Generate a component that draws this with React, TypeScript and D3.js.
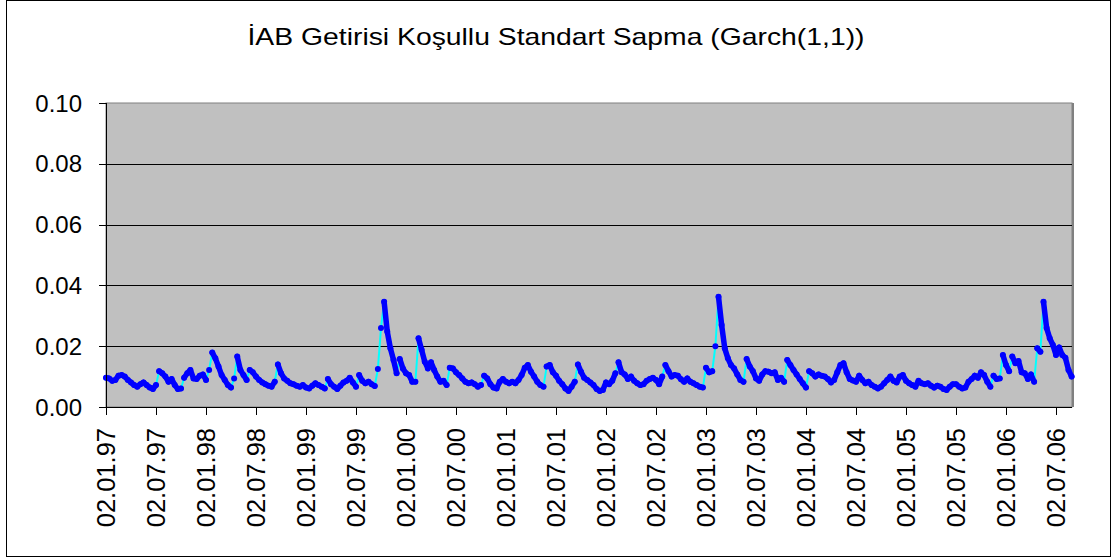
import React from "react";
import * as d3 from "d3";

const title = "İAB Getirisi Koşullu Standart Sapma (Garch(1,1))";

const tickLabels = [
  "02.01.97", "02.07.97", "02.01.98", "02.07.98", "02.01.99", "02.07.99",
  "02.01.00", "02.07.00", "02.01.01", "02.07.01", "02.01.02", "02.07.02",
  "02.01.03", "02.07.03", "02.01.04", "02.07.04", "02.01.05", "02.07.05",
  "02.01.06", "02.07.06",
];

const yTicks = [0, 0.02, 0.04, 0.06, 0.08, 0.1];

// observations per tick interval (half-year)
const pointsPerTick = 16;
const totalCategories = 309.12;

const sigma1997_1999 = [
  0.0096, 0.0094, 0.0086, 0.0089, 0.0103, 0.0105, 0.0100, 0.0089, 0.0081, 0.0072,
  0.0067, 0.0075, 0.0081, 0.0072, 0.0064, 0.0059, 0.0072, 0.0118, 0.0111, 0.0100,
  0.0083, 0.0092, 0.0072, 0.0059, 0.0061, 0.0096, 0.0111, 0.0122, 0.0094, 0.0092,
  0.0103, 0.0107, 0.0089, 0.0122, 0.0179, 0.0160, 0.0133, 0.0105, 0.0089, 0.0072,
  0.0064, 0.0094, 0.0166, 0.0122, 0.0105, 0.0089, 0.0122, 0.0114, 0.0100, 0.0089,
  0.0081, 0.0075, 0.0070, 0.0067, 0.0083, 0.0140, 0.0111, 0.0094, 0.0086, 0.0078,
  0.0075, 0.0070, 0.0067, 0.0072, 0.0064, 0.0061, 0.0070, 0.0078, 0.0072, 0.0067,
  0.0061, 0.0092, 0.0075, 0.0067, 0.0059, 0.0070, 0.0081, 0.0086, 0.0096, 0.0081,
  0.0067, 0.0105, 0.0086, 0.0078, 0.0083, 0.0075, 0.0069,
];

const sigma2000_2002 = [
  0.0125, 0.0260, 0.0346, 0.0248, 0.0193, 0.0155, 0.0111, 0.0158, 0.0127, 0.0111,
  0.0105, 0.0083, 0.0083, 0.0226, 0.0188, 0.0149, 0.0127, 0.0147, 0.0122, 0.0100,
  0.0083, 0.0086, 0.0072, 0.0129, 0.0127, 0.0114, 0.0105, 0.0094, 0.0083, 0.0078,
  0.0081, 0.0075, 0.0067, 0.0072, 0.0103, 0.0094, 0.0075, 0.0064, 0.0061, 0.0083,
  0.0092, 0.0083, 0.0078, 0.0083, 0.0078, 0.0089, 0.0105, 0.0129, 0.0138, 0.0116,
  0.0100, 0.0083, 0.0072, 0.0067, 0.0133, 0.0138, 0.0114, 0.0103, 0.0086, 0.0075,
  0.0061, 0.0053, 0.0067, 0.0083, 0.0140, 0.0116, 0.0096, 0.0089, 0.0081, 0.0072,
  0.0059, 0.0053, 0.0056, 0.0081, 0.0075, 0.0086, 0.0111, 0.0147, 0.0114, 0.0107,
  0.0092, 0.0100, 0.0086, 0.0078, 0.0072, 0.0075, 0.0086, 0.0092, 0.0096, 0.0089,
  0.0075, 0.0100, 0.0138, 0.0118, 0.0100, 0.0105, 0.0103, 0.0091, 0.0083, 0.0094,
  0.0083, 0.0078, 0.0072, 0.0067, 0.0064, 0.0129, 0.0114, 0.0118,
];

const sigma2003_2004 = [
  0.0200, 0.0363, 0.0270, 0.0193, 0.0160, 0.0138, 0.0127, 0.0107, 0.0089, 0.0083,
  0.0158, 0.0133, 0.0118, 0.0094, 0.0086, 0.0107, 0.0118, 0.0116, 0.0111, 0.0114,
  0.0089, 0.0096, 0.0083, 0.0155, 0.0138, 0.0122, 0.0107, 0.0092, 0.0078, 0.0064,
  0.0118, 0.0111, 0.0100, 0.0107, 0.0103, 0.0100, 0.0092, 0.0081, 0.0089, 0.0114,
  0.0138, 0.0144, 0.0114, 0.0092, 0.0087, 0.0083, 0.0103, 0.0089, 0.0078, 0.0083,
  0.0072, 0.0067, 0.0061, 0.0067, 0.0078, 0.0089, 0.0100, 0.0086, 0.0081, 0.0100,
  0.0105, 0.0086, 0.0078, 0.0072, 0.0067,
];

const sigma2005_2006 = [
  0.0086, 0.0078, 0.0075, 0.0078, 0.0070, 0.0064, 0.0070, 0.0067, 0.0059, 0.0056,
  0.0067, 0.0075, 0.0075, 0.0067, 0.0061, 0.0064, 0.0083, 0.0092, 0.0103, 0.0096,
  0.0114, 0.0105, 0.0083, 0.0067, 0.0103, 0.0092, 0.0094, 0.0171, 0.0138, 0.0118,
  0.0166, 0.0144, 0.0151, 0.0114, 0.0111, 0.0092, 0.0107, 0.0083, 0.0193, 0.0182,
  0.0346, 0.0260, 0.0226, 0.0204, 0.0171, 0.0196, 0.0171, 0.0162, 0.0122, 0.0100,
];

const sigma = [...sigma1997_1999, ...sigma2000_2002, ...sigma2003_2004, ...sigma2005_2006];

const W = 1112;
const H = 559;
const plot = { left: 106, right: 1072, top: 103, bottom: 407 };
const FONT = "'Liberation Sans', Arial, Helvetica, sans-serif";

export default function App() {
  const x = d3.scaleLinear().domain([0, totalCategories]).range([plot.left, plot.right]);
  const y = d3.scaleLinear().domain([0, 0.1]).range([plot.bottom, plot.top]);
  const fmt = d3.format(".2f");
  const line = d3
    .line<number>()
    .x((_, i) => x(i))
    .y((d) => y(d));

  // segments that are not sudden upward jumps are drawn as a dense marker band
  const bandSegs: string[] = [];
  for (let i = 0; i < sigma.length - 1; i++) {
    const rise = y(sigma[i]) - y(sigma[i + 1]);
    if (rise < 9) {
      bandSegs.push(`M${x(i)},${y(sigma[i])}L${x(i + 1)},${y(sigma[i + 1])}`);
    }
  }

  return (
    <svg
      width={W}
      height={H}
      style={{ position: "absolute", left: 0, top: 0, background: "#fff" }}
    >
      <rect x={6.5} y={0.5} width={1104} height={556} fill="#fff" stroke="#000" strokeWidth={1} />
      <text
        x={556}
        y={45}
        textAnchor="middle"
        fontFamily={FONT}
        fontSize={24}
        textLength={617}
        lengthAdjust="spacingAndGlyphs"
        fill="#000"
      >
        {title}
      </text>

      <rect
        x={plot.left}
        y={plot.top}
        width={plot.right - plot.left}
        height={plot.bottom - plot.top}
        fill="#C0C0C0"
        stroke="#808080"
        strokeWidth={1}
      />
      <line
        x1={plot.right + 1}
        x2={plot.right + 1}
        y1={plot.top}
        y2={plot.bottom}
        stroke="#808080"
        strokeWidth={2}
      />

      {yTicks.slice(1, -1).map((t) => (
        <line
          key={"g" + t}
          x1={plot.left}
          x2={plot.right}
          y1={Math.round(y(t)) + 0.5}
          y2={Math.round(y(t)) + 0.5}
          stroke="#000"
          strokeWidth={1}
        />
      ))}

      <g>
        <path d={line(sigma) || ""} fill="none" stroke="#00FFFF" strokeWidth={2} />
        <path
          d={bandSegs.join("")}
          fill="none"
          stroke="#0000FF"
          strokeWidth={5.5}
          strokeLinecap="round"
          strokeLinejoin="round"
        />
        {sigma.map((d, i) => (
          <circle key={i} cx={x(i)} cy={y(d)} r={3} fill="#0000FF" />
        ))}
      </g>

      {/* y axis */}
      <line x1={plot.left + 0.5} x2={plot.left + 0.5} y1={plot.top} y2={plot.bottom} stroke="#000" />
      {yTicks.map((t) => (
        <g key={"y" + t}>
          <line
            x1={plot.left - 7}
            x2={plot.left}
            y1={Math.round(y(t)) + 0.5}
            y2={Math.round(y(t)) + 0.5}
            stroke="#000"
          />
          <text
            x={82}
            y={y(t)}
            dy="0.36em"
            textAnchor="end"
            fontFamily={FONT}
            fontSize={24}
            fill="#000"
          >
            {fmt(t)}
          </text>
        </g>
      ))}

      {/* x axis */}
      <line x1={plot.left} x2={plot.right} y1={plot.bottom + 0.5} y2={plot.bottom + 0.5} stroke="#000" />
      {tickLabels.map((lab, k) => {
        const tx = Math.round(x(k * pointsPerTick)) + 0.5;
        return (
          <g key={lab}>
            <line x1={tx} x2={tx} y1={plot.bottom} y2={plot.bottom + 8} stroke="#000" />
            <text
              transform={`translate(${tx + 8.5},428) rotate(-90)`}
              textAnchor="end"
              fontFamily={FONT}
              fontSize={25.5}
              fill="#000"
            >
              {lab}
            </text>
          </g>
        );
      })}
    </svg>
  );
}
